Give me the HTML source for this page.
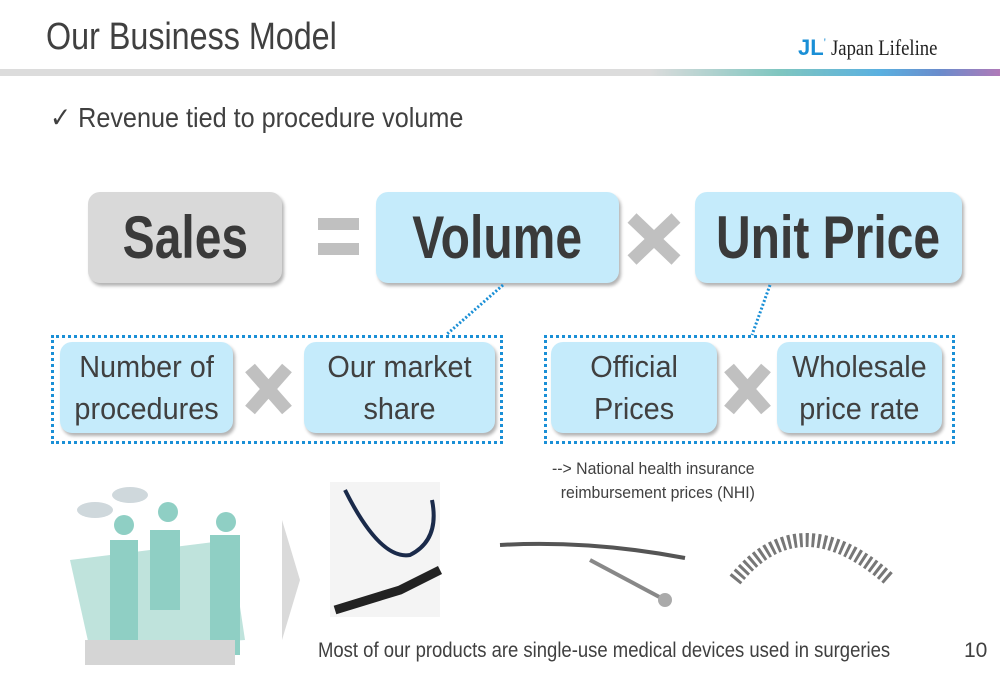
<!DOCTYPE html>
<html><head><meta charset="utf-8"><style>
body{margin:0;width:1000px;height:685px;position:relative;background:#fff;font-family:"Liberation Sans",sans-serif;color:#404040;overflow:hidden}
.a{position:absolute;white-space:nowrap}
.box{position:absolute;border-radius:12px;box-shadow:2px 3px 3px rgba(0,0,0,.3);display:flex;align-items:center;justify-content:center;text-align:center}
.big{font-weight:bold;font-size:60px;color:#3a3a3a}
.big span{display:inline-block;transform:scaleX(.8)}
.sm{background:#c5ebfb;font-size:31px;line-height:42px;color:#404040}
.sm span{display:inline-block;transform:scaleX(.93)}
.dot{position:absolute;border:3px dotted #1a8fd6}
.n{transform-origin:0 0}
</style></head><body>
<div class="a n" style="left:46px;top:16px;font-size:38px;color:#404040;transform:scaleX(.85)">Our Business Model</div>
<div class="a" style="left:798px;top:35px;font-family:'Liberation Serif',serif;font-size:22px;color:#222"><span style="color:#1a8fd6;font-weight:bold;font-family:'Liberation Sans',sans-serif">JL</span><span style="color:#1a8fd6;font-size:12px;vertical-align:top">'</span> <span style="display:inline-block;transform:scaleX(.85);transform-origin:0 0">Japan Lifeline</span></div>
<div class="a" style="left:0;top:69px;width:1000px;height:7px;background:linear-gradient(90deg,#dcdcdc 0,#dcdcdc 65%,#7fc6c0 78%,#5ab0e0 88%,#6a8ccc 94%,#b07ab8 100%)"></div>
<div class="a n" style="left:50px;top:101px;font-size:28px;transform:scaleX(.9)">✓ Revenue tied to procedure volume</div>

<div class="box big" style="left:88px;top:192px;width:194px;height:91px;background:#d9d9d9"><span>Sales</span></div>
<div class="a" style="left:318px;top:218px;width:41px;height:12px;background:#c0c0c0"></div>
<div class="a" style="left:318px;top:243px;width:41px;height:12px;background:#c0c0c0"></div>
<div class="box big" style="left:376px;top:192px;width:243px;height:91px;background:#c5ebfb"><span>Volume</span></div>
<div class="box big" style="left:695px;top:192px;width:267px;height:91px;background:#c5ebfb"><span>Unit&nbsp;Price</span></div>

<svg class="a" style="left:0;top:0" width="1000" height="685">
<g stroke="#c0c0c0" stroke-width="13">
<line x1="632" y1="218" x2="676" y2="260"/><line x1="676" y1="218" x2="632" y2="260"/>
<line x1="250" y1="368" x2="287" y2="410"/><line x1="287" y1="368" x2="250" y2="410"/>
<line x1="729" y1="368" x2="766" y2="410"/><line x1="766" y1="368" x2="729" y2="410"/>
</g>
<g stroke="#1a8fd6" stroke-width="3" stroke-dasharray="2 2">
<line x1="503" y1="285" x2="446" y2="335"/><line x1="770" y1="285" x2="752" y2="335"/>
</g>
<polygon points="282,520 300,580 282,640" fill="#dadada"/>
<polygon points="70,560 230,540 245,640 90,650" fill="#bfe3dc"/>
<rect x="110" y="540" width="28" height="100" fill="#8fcfc4"/>
<rect x="150" y="530" width="30" height="80" fill="#8fcfc4"/>
<rect x="210" y="535" width="30" height="120" fill="#8fcfc4"/>
<circle cx="124" cy="525" r="10" fill="#8fcfc4"/><circle cx="168" cy="512" r="10" fill="#8fcfc4"/><circle cx="226" cy="522" r="10" fill="#8fcfc4"/>
<ellipse cx="95" cy="510" rx="18" ry="8" fill="#cfd8dc"/><ellipse cx="130" cy="495" rx="18" ry="8" fill="#cfd8dc"/>
<rect x="85" y="640" width="150" height="25" fill="#d5d5d5"/>
<rect x="330" y="482" width="110" height="135" fill="#f4f4f4"/>
<path d="M345 490 Q380 560 410 555 Q440 540 432 500" stroke="#1a2a4a" stroke-width="4" fill="none"/>
<path d="M335 610 L400 590 L440 570" stroke="#222" stroke-width="9" fill="none"/>
<path d="M500 545 Q590 540 685 558" stroke="#555" stroke-width="4" fill="none"/>
<path d="M590 560 L665 600" stroke="#888" stroke-width="4"/>
<circle cx="665" cy="600" r="7" fill="#aaa"/>
<path d="M735 580 Q800 500 890 580" stroke="#777" stroke-width="14" fill="none" stroke-dasharray="3 3"/>
</svg>

<div class="dot" style="left:51px;top:335px;width:446px;height:103px"></div>
<div class="dot" style="left:544px;top:335px;width:405px;height:103px"></div>
<div class="box sm" style="left:60px;top:342px;width:173px;height:91px"><span>Number of<br>procedures</span></div>
<div class="box sm" style="left:304px;top:342px;width:191px;height:91px"><span>Our market<br>share</span></div>
<div class="box sm" style="left:551px;top:342px;width:166px;height:91px"><span>Official<br>Prices</span></div>
<div class="box sm" style="left:777px;top:342px;width:165px;height:91px"><span>Wholesale<br>price rate</span></div>

<div class="a n" style="left:552px;top:457px;font-size:17px;line-height:24px;transform:scaleX(.93)">--&gt; National health insurance<br>&nbsp;&nbsp;reimbursement prices (NHI)</div>
<div class="a n" style="left:318px;top:639px;font-size:21px;transform:scaleX(.88)">Most of our products are single-use medical devices used in surgeries</div>
<div class="a" style="left:964px;top:639px;font-size:21px">10</div>
</body></html>
